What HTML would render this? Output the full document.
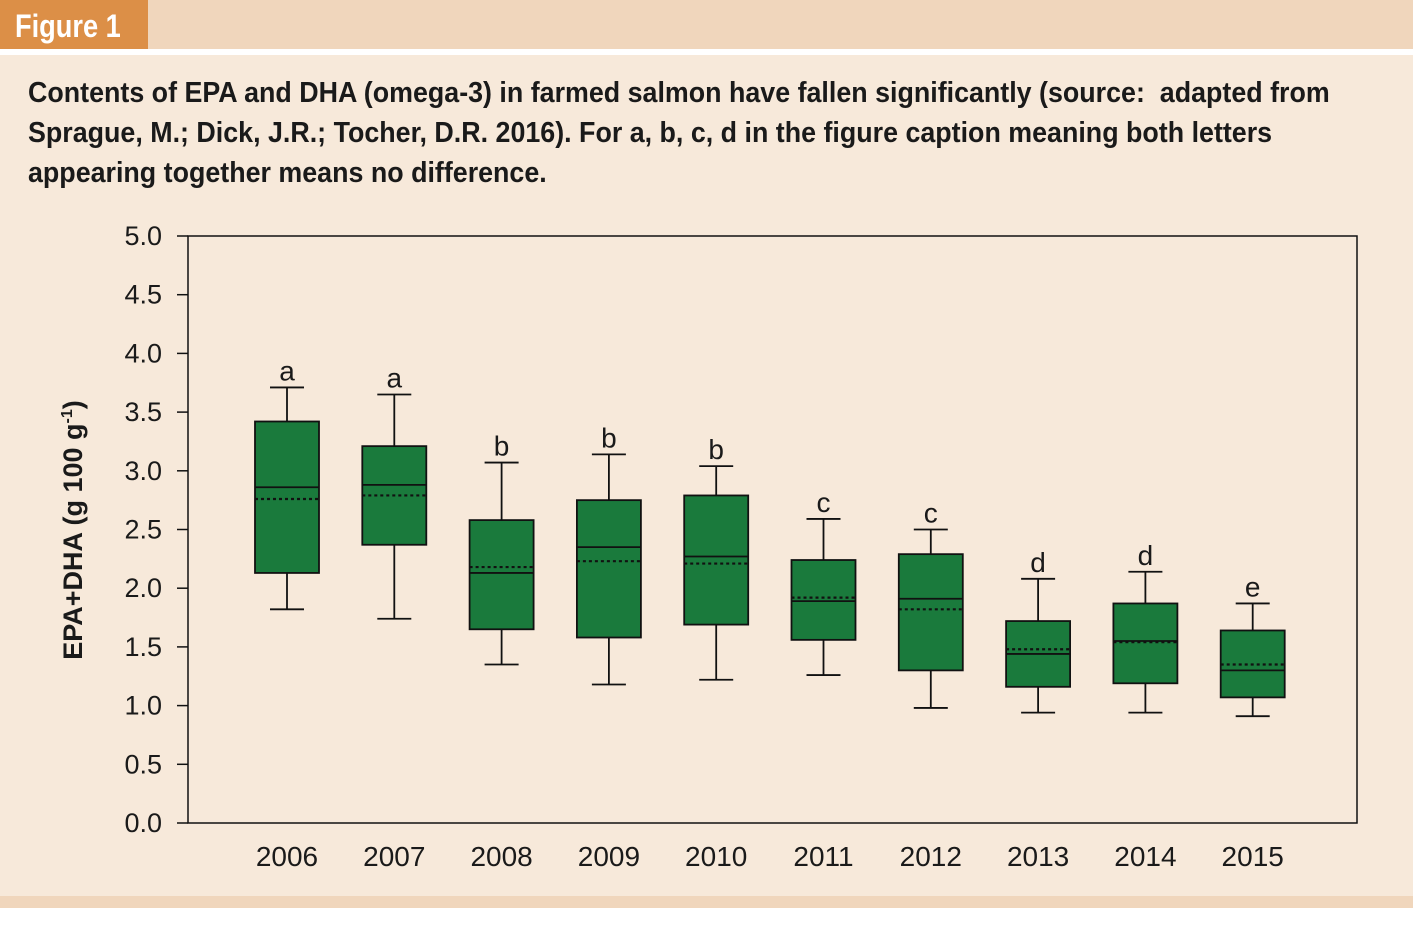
<!DOCTYPE html>
<html><head><meta charset="utf-8"><style>
body{margin:0;width:1413px;height:938px;background:#fff;font-family:"Liberation Sans",Arial,sans-serif;position:relative;overflow:hidden}
#hdr{position:absolute;left:0;top:0;width:1413px;height:49px;background:#f0d6bc}
#tab{position:absolute;left:0;top:0;width:148px;height:49px;background:#dc8f47}
#tabt{position:absolute;left:15px;top:0;color:#fff;font-weight:bold;font-size:32px;line-height:52px;transform:scaleX(0.85);transform-origin:left}
#panel{position:absolute;left:0;top:55px;width:1413px;height:841px;background:#f7e9da}
#foot{position:absolute;left:0;top:896px;width:1413px;height:12px;background:#f0d6bc}
#cap{position:absolute;left:28px;top:73px;font-size:29px;font-weight:bold;line-height:40px;color:#1a1a1a;transform:scaleX(0.925);transform-origin:left top;width:1700px;white-space:nowrap}
svg{position:absolute;left:0;top:0}
</style></head><body>
<div id="hdr"></div>
<div id="tab"></div>
<div id="tabt">Figure 1</div>
<div id="panel"></div>
<div id="foot"></div>
<div id="cap">Contents of EPA and DHA (omega-3) in farmed salmon have fallen significantly (source:&nbsp; adapted from<br>Sprague, M.; Dick, J.R.; Tocher, D.R. 2016). For a, b, c, d in the figure caption meaning both letters<br>appearing together means no difference.</div>
<svg id="chart" width="1413" height="938"></svg>
<script>
const years=["2006","2007","2008","2009","2010","2011","2012","2013","2014","2015"];
const whiskHi=[3.71,3.65,3.07,3.14,3.04,2.59,2.50,2.08,2.14,1.87];
const q3=[3.42,3.21,2.58,2.75,2.79,2.24,2.29,1.72,1.87,1.64];
const medians=[2.86,2.88,2.13,2.35,2.27,1.89,1.91,1.44,1.55,1.30];
const means=[2.76,2.79,2.18,2.23,2.21,1.92,1.82,1.48,1.54,1.35];
const q1=[2.13,2.37,1.65,1.58,1.69,1.56,1.30,1.16,1.19,1.07];
const whiskLo=[1.82,1.74,1.35,1.18,1.22,1.26,0.98,0.94,0.94,0.91];
const letters=["a","a","b","b","b","c","c","d","d","e"];
const yTicks=["0.0","0.5","1.0","1.5","2.0","2.5","3.0","3.5","4.0","4.5","5.0"];
const NS="http://www.w3.org/2000/svg",svg=document.getElementById('chart');
const x0=188,x1=1357,yTop=236,yBot=823,yMax=5;
const y=v=>yBot-(v/yMax)*(yBot-yTop);
const xc=i=>287+i*107.3;
function mk(t,a,p){const e=document.createElementNS(NS,t);for(const k in a)e.setAttribute(k,a[k]);(p||svg).appendChild(e);return e;}
const frame=mk('rect',{x:x0,y:yTop,width:x1-x0,height:yBot-yTop,fill:'none',stroke:'#111','stroke-width':1.5});


yTicks.forEach(t=>{const v=parseFloat(t),yy=y(v);
 mk('line',{x1:177,x2:x0,y1:yy,y2:yy,stroke:'#111','stroke-width':1.5});
 const tx=mk('text',{x:162,y:yy+9,'text-anchor':'end','font-size':27,fill:'#1a1a1a'});tx.textContent=t;
 
 
});
const yt=mk('text',{x:0,y:0,transform:'translate(82,530) rotate(-90)','text-anchor':'middle','font-size':27,'font-weight':'bold',fill:'#1a1a1a'});
yt.innerHTML='EPA+DHA (g 100 g<tspan dy="-10" font-size="16">-1</tspan><tspan dy="10">)</tspan>';


const w=32;
years.forEach((yr,i)=>{const c=xc(i);
 const g=mk('g',{});
 
 
 mk('line',{x1:c,x2:c,y1:y(whiskHi[i]),y2:y(q3[i]),stroke:'#111','stroke-width':1.8},g);
 mk('line',{x1:c,x2:c,y1:y(q1[i]),y2:y(whiskLo[i]),stroke:'#111','stroke-width':1.8},g);
 mk('line',{x1:c-17,x2:c+17,y1:y(whiskHi[i]),y2:y(whiskHi[i]),stroke:'#111','stroke-width':1.8},g);
 mk('line',{x1:c-17,x2:c+17,y1:y(whiskLo[i]),y2:y(whiskLo[i]),stroke:'#111','stroke-width':1.8},g);
 mk('rect',{x:c-w,y:y(q3[i]),width:2*w,height:y(q1[i])-y(q3[i]),fill:'#1a7a3c',stroke:'#111','stroke-width':1.8},g);
 mk('line',{x1:c-w,x2:c+w,y1:y(medians[i]),y2:y(medians[i]),stroke:'#111','stroke-width':1.8},g);
 mk('line',{x1:c-w,x2:c+w,y1:y(means[i]),y2:y(means[i]),stroke:'#111','stroke-width':2.2,'stroke-dasharray':'3,3'},g);
 const l=mk('text',{x:c,y:y(whiskHi[i])-7,'text-anchor':'middle','font-size':28,fill:'#1a1a1a'},g);l.textContent=letters[i];
 const xt=mk('text',{x:c,y:866,'text-anchor':'middle','font-size':28,fill:'#1a1a1a'});xt.textContent=yr;
 
 
});
</script>
</body></html>
